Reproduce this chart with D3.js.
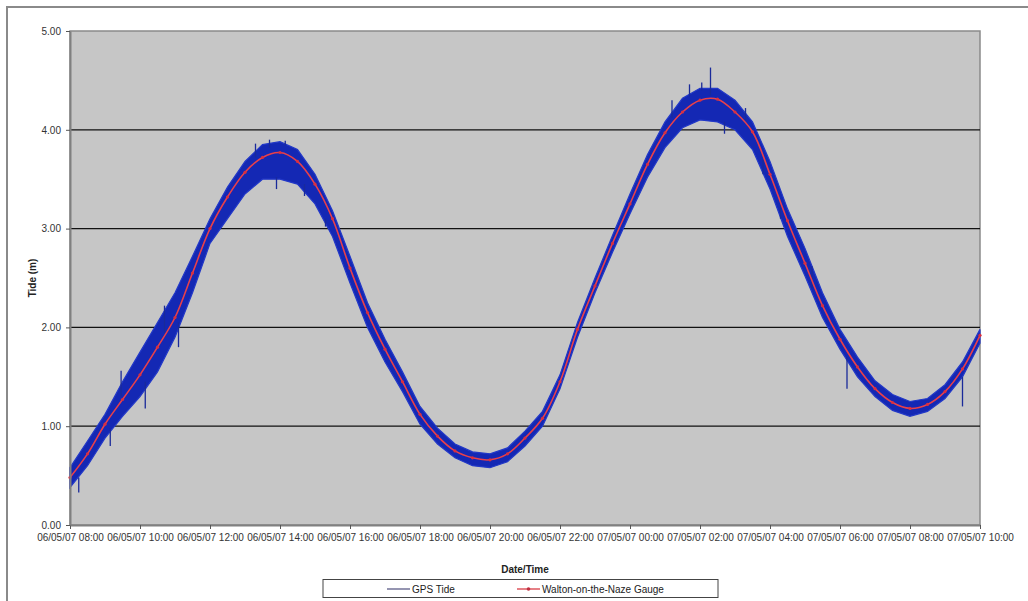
<!DOCTYPE html>
<html>
<head>
<meta charset="utf-8">
<script src="https://cdn.jsdelivr.net/npm/d3@7"></script>
<style>
  body { margin: 0; background: #fff; }
  text { font-family: "Liberation Sans", Arial, sans-serif; }
</style>
</head>
<body>
<div id="chart"></div>
<script>
// half-hour samples from 06/05/07 08:00 to 07/05/07 10:00
const startTime = new Date(2007, 4, 6, 8, 0);
const stepMinutes = 30;

// Walton-on-the-Naze gauge (m)
const gauge = [0.48, 0.72, 1.02, 1.27, 1.52, 1.80, 2.10, 2.55, 3.00, 3.32, 3.57, 3.72, 3.77,
  3.68, 3.45, 3.10, 2.60, 2.15, 1.78, 1.45, 1.12, 0.90, 0.75, 0.68, 0.66, 0.72, 0.88,
  1.08, 1.45, 1.98, 2.42, 2.85, 3.25, 3.65, 3.97, 4.18, 4.30, 4.31, 4.18, 3.98, 3.55,
  3.08, 2.65, 2.22, 1.88, 1.60, 1.38, 1.24, 1.18, 1.22, 1.35, 1.58, 1.92];

// GPS tide, upper and lower edge of the noisy band (m)
const gpsHigh = [0.58, 0.85, 1.12, 1.45, 1.75, 2.05, 2.35, 2.72, 3.10, 3.42, 3.68, 3.85, 3.88,
  3.80, 3.55, 3.18, 2.72, 2.25, 1.88, 1.55, 1.20, 0.98, 0.82, 0.74, 0.72, 0.78, 0.95,
  1.15, 1.52, 2.05, 2.50, 2.93, 3.35, 3.75, 4.08, 4.32, 4.42, 4.42, 4.30, 4.08, 3.68,
  3.20, 2.80, 2.35, 1.98, 1.70, 1.46, 1.32, 1.25, 1.28, 1.42, 1.65, 1.98];
const gpsLow = [0.38, 0.60, 0.88, 1.10, 1.30, 1.55, 1.90, 2.35, 2.85, 3.10, 3.35, 3.50, 3.50,
  3.45, 3.25, 2.92, 2.45, 2.00, 1.65, 1.35, 1.02, 0.82, 0.68, 0.60, 0.58, 0.64, 0.80,
  1.00, 1.38, 1.90, 2.35, 2.76, 3.15, 3.52, 3.82, 4.02, 4.10, 4.08, 4.00, 3.80, 3.40,
  2.92, 2.52, 2.10, 1.78, 1.50, 1.30, 1.16, 1.10, 1.15, 1.28, 1.50, 1.84];

// single GPS spikes: [hours after start, from, to]
const gpsSpikes = [[1.46, 1.30, 1.56], [2.15, 1.45, 1.18], [18.3, 4.35, 4.63],
  [22.2, 1.70, 1.38], [25.5, 1.50, 1.20],
  [0.25, 0.48, 0.33], [1.15, 0.98, 0.80], [2.7, 1.95, 2.22], [3.1, 2.05, 1.80],
  [5.3, 3.72, 3.86], [5.7, 3.82, 3.90], [6.15, 3.84, 3.89], [5.9, 3.52, 3.40],
  [6.7, 3.45, 3.33], [7.3, 3.10, 3.02],
  [17.2, 4.12, 4.30], [17.7, 4.34, 4.46], [18.05, 4.40, 4.48], [18.7, 4.08, 3.96],
  [19.3, 4.10, 4.22], [19.8, 3.70, 3.55], [20.3, 3.30, 3.10], [21.2, 2.62, 2.40]];

const yTicks = [0, 1, 2, 3, 4, 5];
const seriesNames = ["GPS Tide", "Walton-on-the-Naze Gauge"];

const W = 1028, H = 601;
const m = { left: 70, right: 48, top: 31, bottom: 76 };

const svg = d3.select("#chart").append("svg").attr("width", W).attr("height", H);

// outer chart frame
svg.append("rect").attr("x", 7).attr("y", 7).attr("width", W + 20).attr("height", H + 20)
  .attr("fill", "#fff").attr("stroke", "#8a8a8a").attr("stroke-width", 2);

const t = i => new Date(startTime.getTime() + i * stepMinutes * 60000);
const th = h => new Date(startTime.getTime() + h * 3600000);

const x = d3.scaleTime().domain([t(0), t(gauge.length - 1)]).range([m.left, W - m.right]);
const y = d3.scaleLinear().domain([0, 5]).range([H - m.bottom, m.top]);

svg.append("rect")
  .attr("x", x.range()[0]).attr("y", y(5))
  .attr("width", x.range()[1] - x.range()[0]).attr("height", y(0) - y(5))
  .attr("fill", "#c6c6c6").attr("stroke", "#8a8a8a").attr("stroke-width", 1.5);

// gridlines
svg.append("g").selectAll("line").data(yTicks.filter(d => d > 0 && d < 5)).join("line")
  .attr("x1", x.range()[0]).attr("x2", x.range()[1])
  .attr("y1", d => y(d)).attr("y2", d => y(d))
  .attr("stroke", "#111").attr("stroke-width", 1.2);

// GPS band
const band = d3.area()
  .x((d, i) => x(t(i)))
  .y0((d, i) => y(gpsLow[i]))
  .y1(d => y(d));
svg.append("path").datum(gpsHigh)
  .attr("fill", "#1428b4").attr("stroke", "#2238c8").attr("stroke-width", 1.2)
  .attr("d", band);

svg.append("g").selectAll("line").data(gpsSpikes).join("line")
  .attr("x1", d => x(th(d[0]))).attr("x2", d => x(th(d[0])))
  .attr("y1", d => y(d[1])).attr("y2", d => y(d[2]))
  .attr("stroke", "#1a2a9a").attr("stroke-width", 1.3);

// gauge line
const line = d3.line()
  .x((d, i) => x(t(i)))
  .y(d => y(d))
  .curve(d3.curveCatmullRom);
svg.append("path").datum(gauge)
  .attr("fill", "none").attr("stroke", "#e8404a").attr("stroke-width", 1.6)
  .attr("d", line);
svg.append("g").selectAll("circle").data(gauge).join("circle")
  .attr("cx", (d, i) => x(t(i))).attr("cy", d => y(d)).attr("r", 1.6)
  .attr("fill", "#d83040");

// axes
const fmt = d3.timeFormat("%d/%m/%y %H:%M");
const xAxis = svg.append("g").attr("transform", `translate(0,${y(0)})`)
  .call(d3.axisBottom(x).ticks(d3.timeHour.every(2)).tickFormat(fmt).tickSize(4).tickSizeOuter(0));
const yAxis = svg.append("g").attr("transform", `translate(${m.left},0)`)
  .call(d3.axisLeft(y).tickValues(yTicks).tickFormat(d3.format(".2f")).tickSize(4).tickSizeOuter(0));

[xAxis, yAxis].forEach(g => {
  g.select(".domain").attr("stroke", "#808080").attr("stroke-width", 2);
  g.selectAll(".tick line").attr("stroke", "#555");
  g.selectAll(".tick text").attr("fill", "#333").attr("font-size", 10)
    .attr("font-family", "Liberation Sans, Arial, sans-serif");
});
xAxis.selectAll(".tick text").attr("dy", "0.9em");
yAxis.selectAll(".tick text").attr("dx", "-2");

// titles
svg.append("text").attr("x", 525).attr("y", 573).attr("text-anchor", "middle")
  .attr("font-size", 10).attr("font-weight", "bold").attr("fill", "#222").text("Date/Time");
svg.append("text").attr("transform", "translate(36,278) rotate(-90)").attr("text-anchor", "middle")
  .attr("font-size", 10).attr("font-weight", "bold").attr("fill", "#222").text("Tide (m)");

// legend
const lg = svg.append("g");
lg.append("rect").attr("x", 323).attr("y", 579.5).attr("width", 395).attr("height", 18)
  .attr("fill", "#fff").attr("stroke", "#444").attr("stroke-width", 1);
lg.append("line").attr("x1", 387).attr("x2", 410).attr("y1", 589).attr("y2", 589)
  .attr("stroke", "#7a7a9e").attr("stroke-width", 1.6);
lg.append("text").attr("x", 412).attr("y", 592.5).attr("font-size", 10).attr("fill", "#222")
  .text(seriesNames[0]);
lg.append("line").attr("x1", 517).attr("x2", 540).attr("y1", 589).attr("y2", 589)
  .attr("stroke", "#e06068").attr("stroke-width", 1.6);
lg.append("circle").attr("cx", 528.5).attr("cy", 589).attr("r", 1.8).attr("fill", "#c03040");
lg.append("text").attr("x", 542).attr("y", 592.5).attr("font-size", 10).attr("fill", "#222")
  .text(seriesNames[1]);
</script>
</body>
</html>
